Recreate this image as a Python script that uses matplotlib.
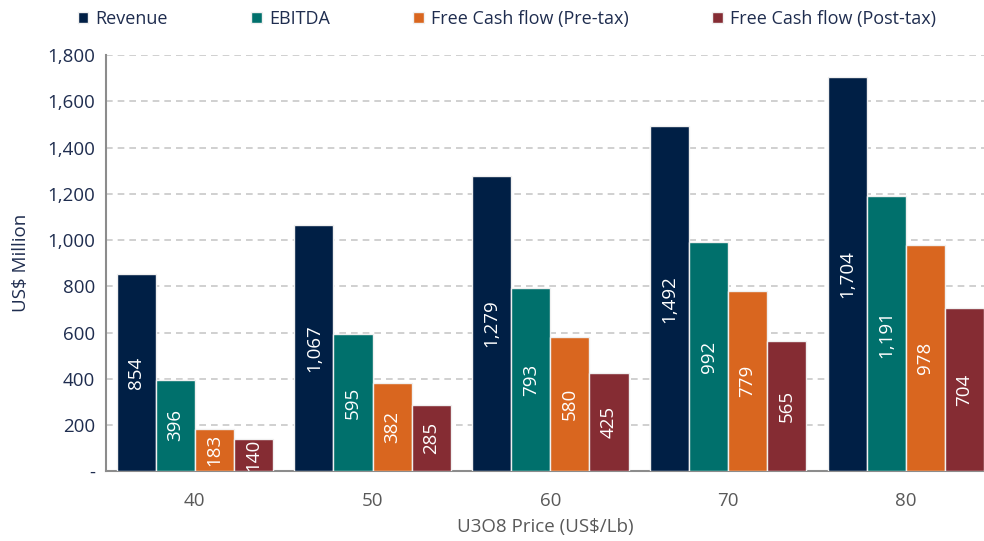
import matplotlib.pyplot as plt
import numpy as np
from matplotlib.ticker import FuncFormatter

plt.rcParams['font.family'] = ['Open Sans', 'DejaVu Sans']

# Datos del grafico
precios = ['40', '50', '60', '70', '80']
revenue = [854, 1067, 1279, 1492, 1704]
ebitda = [396, 595, 793, 992, 1191]
fcf_pre = [183, 382, 580, 779, 978]
fcf_post = [140, 285, 425, 565, 704]

series = [
    ('Revenue', revenue, '#001f45'),
    ('EBITDA', ebitda, '#00706c'),
    ('Free Cash flow (Pre-tax)', fcf_pre, '#d9661f'),
    ('Free Cash flow (Post-tax)', fcf_post, '#852c33'),
]

navy = '#1f2d4f'
gris = '#595959'

fig = plt.figure(figsize=(9.84, 5.41), dpi=100)
ax = fig.add_axes([0.1077, 0.129, 0.8923, 0.769])

x = np.arange(len(precios))
ancho = 0.22
for i, (nombre, vals, color) in enumerate(series):
    pos = x + (i - 1.5) * ancho
    barras = ax.bar(pos, vals, ancho, color=color, edgecolor='#f0f0f0',
                    linewidth=1, label=nombre, zorder=3)
    for b, v in zip(barras, vals):
        ax.text(b.get_x() + b.get_width() / 2, v / 2, f'{v:,}',
                rotation=90, ha='center', va='center', color='white',
                fontsize=13.5, zorder=4)

ax.set_xlim(-0.5, 4.44)
ax.set_ylim(0, 1800)
ax.set_yticks(range(0, 1801, 200))
ax.yaxis.set_major_formatter(FuncFormatter(lambda v, p: '-' if v == 0 else f'{int(v):,}'))
ax.set_xticks(x)
ax.set_xticklabels(precios)

ax.grid(axis='y', linestyle=(0, (4, 3)), color='#c8c8c8', linewidth=1.2, zorder=0)
ax.tick_params(axis='y', length=0, labelsize=13.5, labelcolor=navy, pad=8)
ax.tick_params(axis='x', length=0, labelsize=13.5, labelcolor=gris, pad=15)

for lado in ['top', 'right']:
    ax.spines[lado].set_visible(False)
for lado in ['left', 'bottom']:
    ax.spines[lado].set_color('#8c8c8c')
    ax.spines[lado].set_linewidth(1.5)

ax.set_ylabel('US$ Million', fontsize=13.5, color=navy, labelpad=12)
ax.set_xlabel('U3O8 Price (US$/Lb)', fontsize=13.5, color=gris, labelpad=6)

leg = fig.legend(loc='upper center', bbox_to_anchor=(0.515, 1.012), ncol=4,
                 frameon=False, fontsize=13, handlelength=0.6, handleheight=0.6,
                 columnspacing=4.6, handletextpad=0.4)
for t in leg.get_texts():
    t.set_color(navy)

plt.savefig('out.png', dpi=100)
